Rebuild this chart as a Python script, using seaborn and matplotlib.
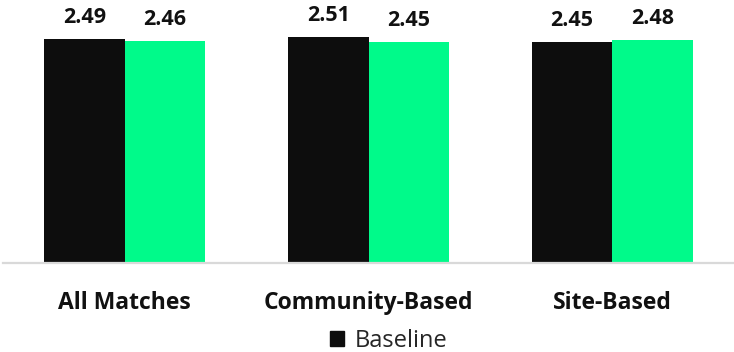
import matplotlib
matplotlib.use("Agg")
import matplotlib.pyplot as plt
import seaborn as sns
import pandas as pd
from matplotlib.patches import Patch

categories = ["All Matches", "Community-Based", "Site-Based"]
series_names = ["Baseline", "Comparison"]
baseline = [2.49, 2.51, 2.45]
comparison = [2.46, 2.45, 2.48]
colors = ["#0d0d0d", "#00fa8a"]

df = pd.DataFrame({
    "category": categories * 2,
    "series": [series_names[0]] * 3 + [series_names[1]] * 3,
    "value": baseline + comparison,
})

sns.set_theme(style="white")
plt.rcParams["font.family"] = ["Open Sans", "DejaVu Sans"]

fig = plt.figure(figsize=(7.34, 3.52), dpi=100)
ax = fig.add_axes([3 / 734, (352 - 263) / 352, 731 / 734, 263 / 352])

sns.barplot(data=df, x="category", y="value", hue="series", order=categories,
            hue_order=series_names, palette=colors, width=0.66, gap=0,
            saturation=1, ax=ax, legend=False, errorbar=None, linewidth=0)

for cont in ax.containers:
    ax.bar_label(cont, fmt="%.2f", padding=8, fontsize=15.5, fontweight="bold",
                 color="#111111")

ax.set_ylim(0, 2.92)
ax.set_xlim(-0.5, 2.5)
ax.set_xlabel("")
ax.set_ylabel("")
ax.set_yticks([])
for s in ["top", "right", "left"]:
    ax.spines[s].set_visible(False)
ax.spines["bottom"].set_color("#d9d9d9")
ax.spines["bottom"].set_linewidth(1.6)
ax.tick_params(axis="x", length=0, pad=20, labelsize=16.5)
for lbl in ax.get_xticklabels():
    lbl.set_fontweight("bold")
    lbl.set_color("#111111")

handles = [Patch(facecolor=colors[0], edgecolor=colors[0])]
fig.legend(handles, [series_names[0]], loc="center",
           bbox_to_anchor=(389 / 734, 11 / 352), frameon=False,
           fontsize=17, handlelength=0.6, handleheight=0.6,
           handletextpad=0.45, borderpad=0.1)

fig.savefig("out.png", dpi=100)
